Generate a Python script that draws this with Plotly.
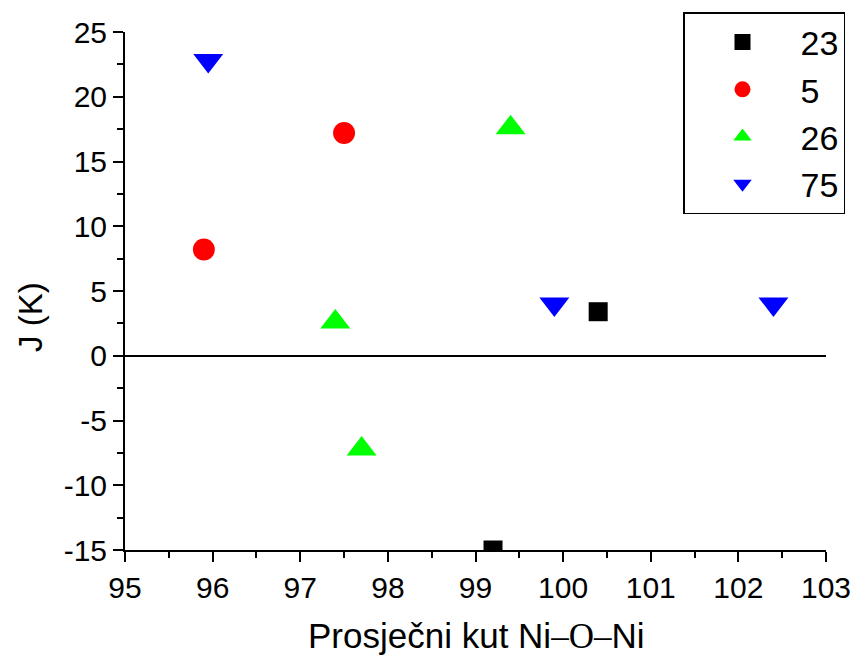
import plotly.graph_objects as go

# Data
x_23 = [99.2, 100.4]
y_23 = [-15.0, 3.4]

x_5 = [95.9, 97.5]
y_5 = [8.2, 17.2]

x_26 = [97.4, 97.7, 99.4]
y_26 = [2.6, -7.2, 17.6]

x_75 = [95.95, 99.9, 102.4]
y_75 = [22.8, 4.0, 4.0]

series_names = ["23", "5", "26", "75"]

x_tickvals = [95, 96, 97, 98, 99, 100, 101, 102, 103]
x_ticktext = ["95", "96", "97", "98", "99", "100", "101", "102", "103"]
y_tickvals = [-15, -10, -5, 0, 5, 10, 15, 20, 25]
y_ticktext = ["-15", "-10", "-5", "0", "5", "10", "15", "20", "25"]

FONT = "Liberation Sans, Arial, sans-serif"

fig = go.Figure()
fig.add_trace(go.Scatter(x=x_23, y=y_23, mode="markers", name=series_names[0],
                         marker=dict(symbol="square", size=19, color="black")))
fig.add_trace(go.Scatter(x=x_5, y=y_5, mode="markers", name=series_names[1],
                         marker=dict(symbol="circle", size=22, color="#ff0000")))
fig.add_trace(go.Scatter(x=x_26, y=y_26, mode="markers", name=series_names[2],
                         marker=dict(symbol="triangle-up", size=26, color="#00ff00")))
fig.add_trace(go.Scatter(x=x_75, y=y_75, mode="markers", name=series_names[3],
                         marker=dict(symbol="triangle-down", size=26, color="#0000ff")))

PL, PR, PT, PB = 125, 826, 32, 550
PW, PH = PR - PL, PB - PT

fig.update_layout(
    width=852, height=657,
    margin=dict(l=PL, r=852 - PR, t=PT, b=657 - PB, autoexpand=False),
    paper_bgcolor="white", plot_bgcolor="white",
    font=dict(family=FONT, color="black"),
    showlegend=True,
    legend=dict(
        x=(845 - PL) / PW, xanchor="right", y=(PB - 12) / PH, yanchor="top",
        bordercolor="black", borderwidth=1.5, bgcolor="white",
        font=dict(size=34, family=FONT, color="black"),
        itemwidth=106, tracegroupgap=0,
    ),
    xaxis=dict(
        range=[95, 103], tickmode="array", tickvals=x_tickvals, ticktext=x_ticktext,
        showline=True, linecolor="black", linewidth=2,
        ticks="outside", ticklen=10, tickwidth=2, tickcolor="black",
        minor=dict(dtick=0.5, tick0=95, ticks="outside", ticklen=6, tickwidth=2, tickcolor="black"),
        showgrid=False, zeroline=False,
        tickfont=dict(size=30, family=FONT, color="black"),
    ),
    yaxis=dict(
        range=[-15, 25], tickmode="array", tickvals=y_tickvals, ticktext=y_ticktext,
        showline=True, linecolor="black", linewidth=2,
        ticks="outside", ticklen=10, tickwidth=2, tickcolor="black",
        minor=dict(dtick=2.5, tick0=0, ticks="outside", ticklen=6, tickwidth=2, tickcolor="black"),
        showgrid=False,
        zeroline=True, zerolinecolor="black", zerolinewidth=2,
        tickfont=dict(size=30, family=FONT, color="black"),
    ),
    annotations=[
        dict(text="J (K)", textangle=-90, xref="paper", yref="paper",
             x=(30 - PL) / PW, y=(PB - 317) / PH, showarrow=False,
             xanchor="center", yanchor="middle",
             font=dict(size=33, family=FONT, color="black")),
        dict(text="Prosječni kut Ni<span style=\"font-family:'Liberation Serif'\">–O–</span>Ni",
             xref="paper", yref="paper",
             x=(476 - PL) / PW, y=(PB - 636) / PH, showarrow=False,
             xanchor="center", yanchor="middle",
             font=dict(size=35, family=FONT, color="black")),
    ],
)

fig.write_html("out.html",
               config={"displayModeBar": False},
               post_script="document.body.style.margin='0';document.body.style.overflow='hidden';")
